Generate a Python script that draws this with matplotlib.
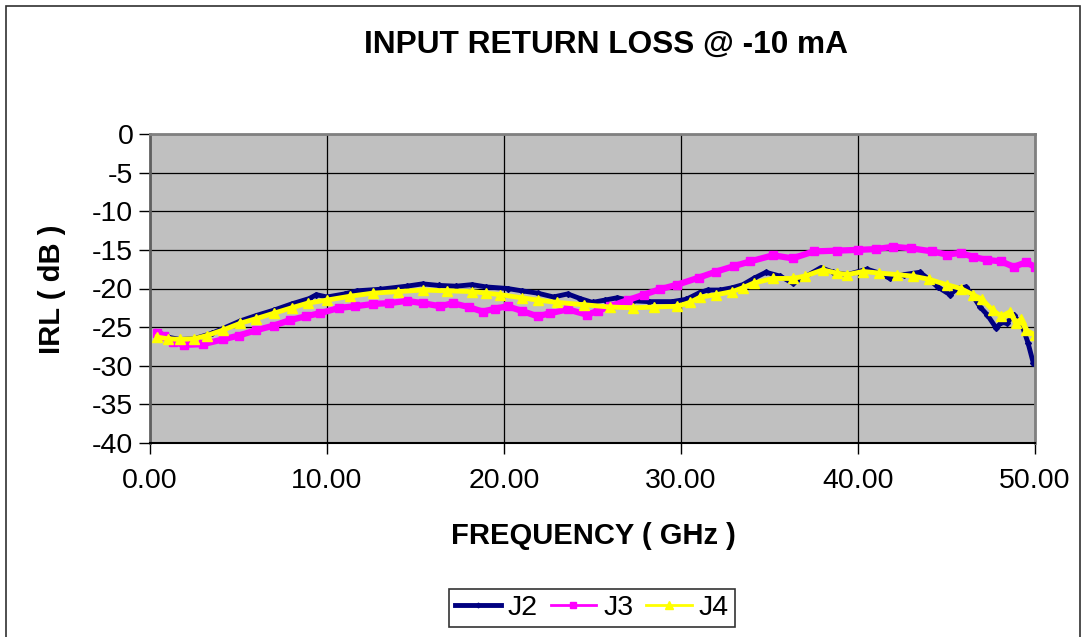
import matplotlib
matplotlib.use("Agg")
import matplotlib.pyplot as plt
from matplotlib.patches import Rectangle

# readings from the reference chart (GHz, dB)
j2_freq = [0.5, 1.0, 1.7, 2.5, 3.5, 5.1, 6.0, 7.0, 8.0, 9.0, 9.4, 10.0, 11.0, 11.7, 13.0,
           14.5, 15.4, 16.3, 17.3, 18.2, 19.0, 20.2, 21.0, 21.9, 22.8, 23.6, 24.3, 25.0,
           25.7, 26.4, 27.3, 28.2, 29.5, 30.3, 31.0, 31.5, 32.2, 32.9, 33.5, 34.1, 34.8,
           35.6, 36.3, 37.0, 37.9, 38.6, 39.4, 40.5, 41.2, 41.8, 42.6, 43.5, 44.0, 44.5,
           45.2, 45.6, 46.1, 46.5, 46.9, 47.3, 47.8, 48.1, 48.4, 48.8, 49.3, 49.6, 49.9]
j2_irl = [-25.7, -26.3, -26.6, -26.5, -25.8, -24.2, -23.5, -22.8, -22.0, -21.3, -20.8, -21.1,
          -20.7, -20.3, -20.1, -19.7, -19.4, -19.6, -19.7, -19.5, -19.8, -20.0, -20.3, -20.6,
          -21.1, -20.7, -21.3, -21.8, -21.5, -21.2, -21.6, -21.7, -21.7, -21.4, -20.6, -20.2,
          -20.2, -19.9, -19.5, -18.7, -17.9, -18.4, -19.3, -18.5, -17.3, -17.9, -18.2, -17.5,
          -18.0, -18.7, -18.2, -17.9, -18.8, -19.8, -20.8, -20.0, -19.8, -21.0, -22.4, -23.4,
          -25.1, -24.4, -24.5, -23.4, -25.0, -27.0, -29.6]

j3_freq = [0.4, 0.8, 1.3, 1.9, 3.0, 4.1, 5.0, 6.0, 7.0, 7.9, 8.8, 9.6, 10.7, 11.6, 12.6,
           13.5, 14.5, 15.4, 16.4, 17.1, 18.0, 18.8, 19.5, 20.2, 21.0, 21.9, 22.6, 23.6,
           24.7, 25.3, 26.0, 27.0, 27.9, 28.8, 29.8, 31.0, 32.0, 33.0, 33.9, 35.2, 36.3,
           37.5, 38.8, 40.0, 41.0, 42.0, 43.0, 44.2, 45.0, 45.8, 46.5, 47.3, 48.1, 48.8,
           49.5, 50.0]
j3_irl = [-25.7, -26.1, -26.9, -27.3, -27.2, -26.6, -26.1, -25.4, -24.8, -24.1, -23.6, -23.2,
          -22.5, -22.3, -22.0, -21.9, -21.6, -21.9, -22.3, -21.9, -22.4, -23.0, -22.6, -22.3,
          -22.9, -23.6, -23.2, -22.7, -23.4, -22.9, -22.3, -21.5, -20.8, -20.1, -19.5, -18.6,
          -17.8, -17.1, -16.5, -15.7, -16.1, -15.2, -15.1, -15.0, -14.9, -14.6, -14.8, -15.2,
          -15.6, -15.4, -15.9, -16.3, -16.5, -17.2, -16.6, -17.2]

j4_freq = [0.4, 1.0, 1.7, 2.5, 3.2, 4.1, 5.1, 6.0, 7.0, 8.0, 8.9, 10.0, 11.3, 12.6, 14.0,
           15.4, 16.8, 18.2, 19.0, 19.8, 21.0, 21.9, 23.0, 24.5, 26.0, 27.3, 28.5, 29.8,
           30.5, 31.1, 32.0, 32.9, 33.5, 34.1, 35.2, 36.3, 37.0, 38.0, 38.8, 39.4, 40.3,
           41.2, 42.2, 43.1, 44.0, 45.0, 45.8, 46.5, 47.0, 47.6, 48.1, 48.6, 48.9, 49.2,
           49.5, 50.0]
j4_irl = [-26.3, -26.5, -26.6, -26.5, -26.1, -25.4, -24.5, -23.9, -23.2, -22.5, -21.9, -21.5,
          -21.0, -20.6, -20.4, -20.2, -20.3, -20.4, -20.6, -20.8, -21.2, -21.5, -21.8, -22.1,
          -22.4, -22.5, -22.4, -22.3, -21.8, -21.1, -20.8, -20.4, -19.9, -19.3, -18.7, -18.7,
          -18.4, -17.6, -18.0, -18.2, -17.8, -18.0, -18.2, -18.4, -18.8, -19.5, -20.0, -20.8,
          -21.4, -22.8, -23.6, -23.0, -24.5, -24.0, -25.4, -26.0]

x_ticks = [0, 10, 20, 30, 40, 50]
y_ticks = [0, -5, -10, -15, -20, -25, -30, -35, -40]

plt.rcParams['font.family'] = ['Liberation Sans', 'DejaVu Sans']
plt.rcParams['axes.unicode_minus'] = False

W, H = 1086, 637
fig = plt.figure(figsize=(W / 100, H / 100), dpi=100)

# outer chart frame
fig.patches.append(Rectangle((6 / W, -0.05), (1080 - 6) / W, 1.05 - 6 / H,
                             transform=fig.transFigure, fill=False,
                             edgecolor='#303030', linewidth=1.2))

left, right, top, bottom = 150, 1035, 134, 443
ax = fig.add_axes([left / W, 1 - bottom / H, (right - left) / W, (bottom - top) / H])
ax.set_facecolor('#c0c0c0')

ax.plot(j2_freq, j2_irl, color='#000080', linewidth=3.5, marker='D', markersize=3,
        label='J2')
ax.plot(j3_freq, j3_irl, color='#ff00ff', linewidth=4.5, marker='s', markersize=6,
        label='J3')
ax.plot(j4_freq, j4_irl, color='#ffff00', linewidth=3.5, marker='^', markersize=7,
        label='J4')

ax.set_xlim(0, 50)
ax.set_ylim(-40, 0)
ax.set_xticks(x_ticks)
ax.set_xticklabels(['%.2f' % v for v in x_ticks])
ax.set_yticks(y_ticks)
ax.grid(True, color='black', linewidth=0.9)
ax.set_axisbelow(True)
ax.tick_params(direction='out', length=8, width=1, labelsize=20.5, pad=4)
ax.tick_params(axis='x', pad=10)

for s in ['top', 'right']:
    ax.spines[s].set_color('#808080')
    ax.spines[s].set_linewidth(2)
ax.spines['left'].set_color('#606060')
ax.spines['left'].set_linewidth(2)
ax.spines['bottom'].set_color('black')
ax.spines['bottom'].set_linewidth(1.5)

fig.text(606 / W, 1 - 45 / H, 'INPUT RETURN LOSS @ -10 mA', ha='center', va='center',
         fontsize=22.8, fontweight='bold')
fig.text(52 / W, 1 - 289 / H, 'IRL ( dB )', ha='center', va='center', rotation=90,
         fontsize=21, fontweight='bold')
fig.text(593 / W, 1 - 536 / H, 'FREQUENCY ( GHz )', ha='center', va='center',
         fontsize=21, fontweight='bold')

leg = fig.legend(loc='center', bbox_to_anchor=(592 / W, 1 - 608 / H), ncol=3,
                 fontsize=20.5, frameon=True, fancybox=False, edgecolor='black',
                 handlelength=1.6, handletextpad=0.25, columnspacing=0.45,
                 borderpad=0.2, borderaxespad=0, markerscale=0.8)
leg.get_frame().set_linewidth(1.2)
for line, lw in zip(leg.get_lines(), [3.5, 2, 2]):
    line.set_linewidth(lw)

fig.savefig('out.png', dpi=100)
